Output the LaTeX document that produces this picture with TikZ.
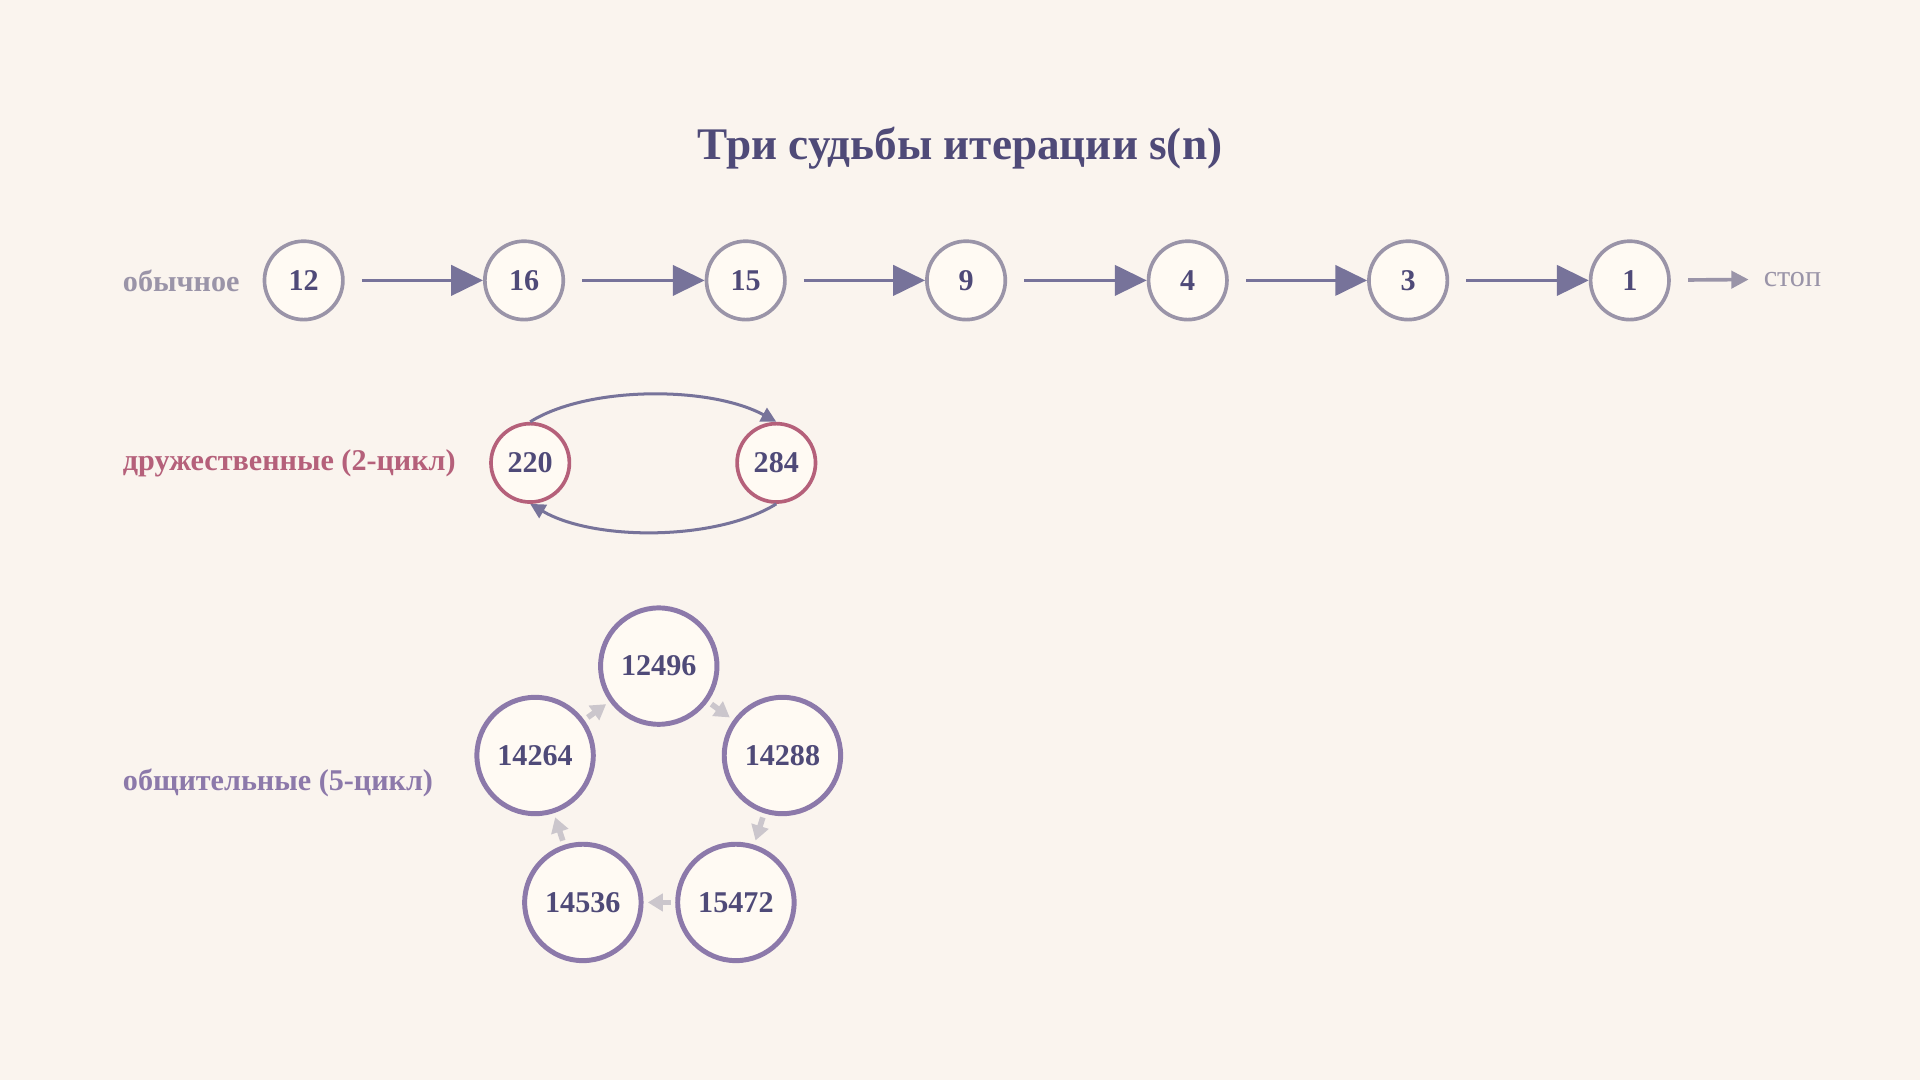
\documentclass[tikz,border=0pt]{standalone}
\usepackage{fontspec}
\setmainfont{Liberation Serif}
\usetikzlibrary{arrows.meta}
\definecolor{bgc}{HTML}{FAF4EE}
\definecolor{ink}{HTML}{4F4A78}
\definecolor{plain}{HTML}{9A94A8}
\definecolor{amic}{HTML}{B5607A}
\definecolor{soc}{HTML}{8C79AA}
\definecolor{arr}{HTML}{77739A}
\definecolor{pale}{HTML}{CBC6CC}
\definecolor{fillc}{HTML}{FFFAF3}
\tikzset{
    num/.style={circle,draw=#1,fill=fillc,text=ink,font=\fontsize{7}{8}\selectfont\bfseries,inner sep=0pt},
    small/.style={num=plain,line width=0.85pt,minimum size=0.64cm},
    big/.style={num=soc,line width=1.15pt,minimum size=0.95cm},
    pair/.style={num=amic,line width=0.85pt,minimum size=0.64cm},
    lab/.style={anchor=west,font=\fontsize{7}{8}\selectfont\bfseries},
    chain/.style={arr,line width=0.85pt,-{Triangle[length=7.4pt,width=7pt]},shorten <=4pt},
    pairarrow/.style={arr,line width=0.7pt,-{Triangle[length=3.5pt,width=3.5pt]}},
    ring/.style={pale,line width=1.3pt,-{Triangle[length=3.5pt,width=4pt]},shorten <=1pt,shorten >=1pt}
}
\begin{document}
\begin{tikzpicture}[x=0.01cm,y=-0.01cm]
    \fill[bgc] (0,0) rectangle (1568,882);
    \node[text=ink,font=\fontsize{10.5}{12}\selectfont\bfseries] (title) at (784,121) {Три судьбы итерации s(n)};
    % ordinary chain
    \node[lab,text=plain] (l1) at (88,229) {обычное};
    \foreach \v/\x [count=\i] in {12/248,16/428,15/609,9/789,4/970,3/1150,1/1331}
        \node[small] (o\i) at (\x,229) {\v};
    \foreach \i [evaluate=\i as \j using int(\i+1)] in {1,...,6}
        \draw[chain] (o\i) -- (o\j);
    \node[anchor=west,text=plain,font=\fontsize{7}{8}\selectfont] (stop) at (1428,228) {стоп};
    \draw[plain,line width=0.85pt,-{Triangle[length=4pt,width=4pt]},shorten <=4pt] (o7) -- (stop);
    % amicable pair
    \node[lab,text=amic] (l2) at (88,378) {дружественные (2-цикл)};
    \node[pair] (a) at (433,378) {220};
    \node[pair] (b) at (634,378) {284};
    \draw[pairarrow] (a.north) .. controls (480,315) and (580,315) .. (b.north);
    \draw[pairarrow] (b.south) .. controls (585,442) and (485,442) .. (a.south);
    % sociable cycle
    \node[lab,text=soc] (l3) at (88,639) {общительные (5-цикл)};
    \node[big] (s1) at (538,544) {12496};
    \node[big] (s2) at (639,617) {14288};
    \node[big] (s3) at (601,737) {15472};
    \node[big] (s4) at (476,737) {14536};
    \node[big] (s5) at (437,617) {14264};
    \draw[ring] (s1) -- (s2);
    \draw[ring] (s2) -- (s3);
    \draw[ring] (s3) -- (s4);
    \draw[ring] (s4) -- (s5);
    \draw[ring] (s5) -- (s1);
\end{tikzpicture}
\end{document}
